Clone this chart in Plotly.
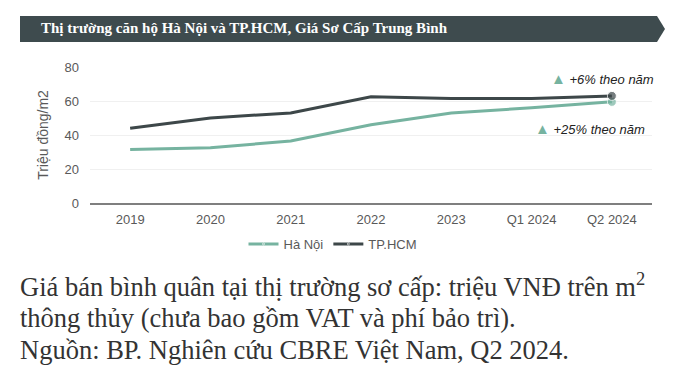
import plotly.graph_objects as go

categories = ["2019", "2020", "2021", "2022", "2023", "Q1 2024", "Q2 2024"]
hanoi = [31.5, 32.5, 36.5, 46.0, 53.0, 56.0, 59.5]
hcm = [44.0, 50.0, 53.0, 62.5, 61.5, 61.5, 63.0]
y_ticks = [0, 20, 40, 60, 80]

C_HN = "#76b3a0"
C_HCM = "#3d4749"

OFF = 8  # page body margin
W, H = 680 - OFF, 376 - OFF
L, R, T, B = 90 - OFF, 28, 67 - OFF, 173
pw, ph = W - L - R, H - T - B

def px(x):
    return (x - OFF - L) / pw

def py(y):
    return (H - B - (y - OFF)) / ph

fig = go.Figure()
last = len(categories) - 1
fig.add_trace(go.Scatter(
    x=categories, y=hanoi, name="Hà Nội", mode="lines+markers",
    line=dict(color=C_HN, width=3),
    marker=dict(size=[0] * last + [9], color=C_HN),
))
fig.add_trace(go.Scatter(
    x=categories, y=hcm, name="TP.HCM", mode="lines+markers",
    line=dict(color=C_HCM, width=3),
    marker=dict(size=[0] * last + [9], color=C_HCM),
))

shapes = [dict(
    type="path", xref="paper", yref="paper",
    path=f"M {px(20)} {py(16)} L {px(657)} {py(16)} L {px(665)} {py(29)} L {px(657)} {py(42)} L {px(20)} {py(42)} Z",
    fillcolor="#3e4b4e", line=dict(width=0), layer="above",
)]

tri = "<span style='color:" + C_HN + ";font-size:15px'>▲</span>"
annotations = [
    dict(xref="paper", yref="paper", x=px(39), y=py(28), xanchor="left", yanchor="middle",
         text="<b>Thị trường căn hộ Hà Nội và TP.HCM, Giá Sơ Cấp Trung Bình</b>", showarrow=False,
         font=dict(family="Liberation Serif", size=15, color="white")),
    dict(xref="paper", yref="paper", x=px(549), y=py(78), xanchor="left", yanchor="middle",
         text=tri + " <i>+6% theo năm</i>", showarrow=False,
         font=dict(family="Liberation Sans", size=13, color="#222222")),
    dict(xref="paper", yref="paper", x=px(533), y=py(128), xanchor="left", yanchor="middle",
         text=tri + " <i>+25% theo năm</i>", showarrow=False,
         font=dict(family="Liberation Sans", size=13, color="#222222")),
    dict(xref="paper", yref="paper", x=px(18), y=py(285), xanchor="left", yanchor="middle",
         text="Giá bán bình quân tại thị trường sơ cấp: triệu VNĐ trên m<sup>2</sup>", showarrow=False,
         font=dict(family="Liberation Serif", size=26.5, color="#333333")),
    dict(xref="paper", yref="paper", x=px(18), y=py(318), xanchor="left", yanchor="middle",
         text="thông thủy (chưa bao gồm VAT và phí bảo trì).", showarrow=False,
         font=dict(family="Liberation Serif", size=26.5, color="#333333")),
    dict(xref="paper", yref="paper", x=px(18), y=py(350), xanchor="left", yanchor="middle",
         text="Nguồn: BP. Nghiên cứu CBRE Việt Nam, Q2 2024.", showarrow=False,
         font=dict(family="Liberation Serif", size=26.5, color="#333333")),
]

fig.update_layout(
    width=W, height=H,
    margin=dict(l=L, r=R, t=T, b=B),
    paper_bgcolor="white", plot_bgcolor="white",
    showlegend=True,
    legend=dict(orientation="h", x=px(333), y=py(244), xanchor="center", yanchor="middle",
                font=dict(family="Liberation Sans", size=13, color="#595959"),
                itemwidth=30, tracegroupgap=0),
    xaxis=dict(type="category", range=[-0.5, len(categories) - 0.5], showgrid=False,
               showline=True, linecolor="#7f7f7f", linewidth=1.5, ticks="", ticklen=0,
               ticklabelstandoff=4,
               tickfont=dict(family="Liberation Sans", size=13, color="#595959")),
    yaxis=dict(range=[0, 80], tickvals=y_ticks, showgrid=True, gridcolor="#f0f0f0",
               zeroline=False, ticks="", ticklabelstandoff=10,
               tickfont=dict(family="Liberation Sans", size=13, color="#595959"),
               title=dict(text="Triệu đồng/m2", font=dict(family="Liberation Sans", size=14, color="#595959"), standoff=12)),
    shapes=shapes, annotations=annotations,
)

fig.write_html("out.html")
